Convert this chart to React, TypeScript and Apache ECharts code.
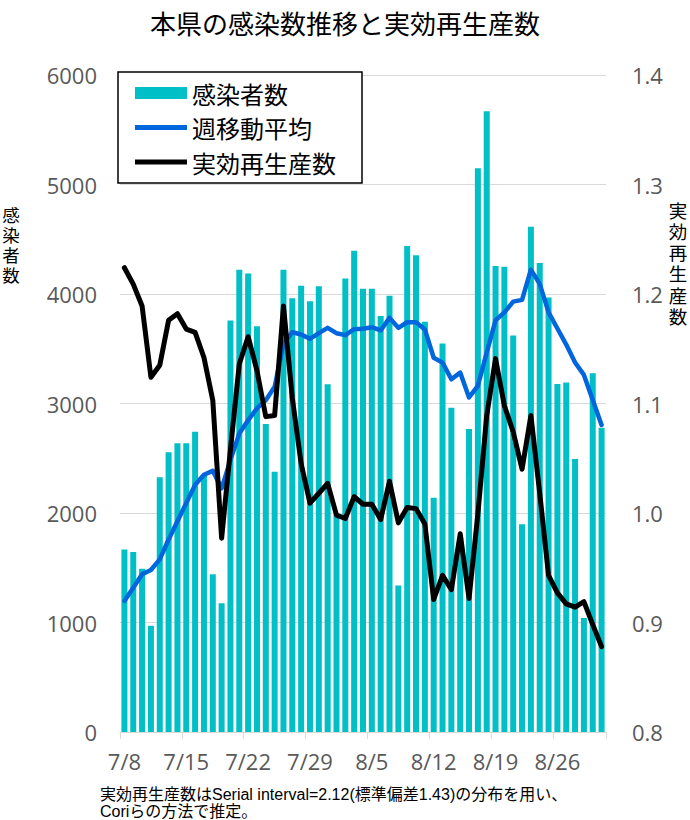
import React, { useEffect, useRef } from "react";
import * as echarts from "echarts";

const categories = [
  "7/8", "7/9", "7/10", "7/11", "7/12", "7/13", "7/14", "7/15", "7/16", "7/17",
  "7/18", "7/19", "7/20", "7/21", "7/22", "7/23", "7/24", "7/25", "7/26", "7/27",
  "7/28", "7/29", "7/30", "7/31", "8/1", "8/2", "8/3", "8/4", "8/5", "8/6",
  "8/7", "8/8", "8/9", "8/10", "8/11", "8/12", "8/13", "8/14", "8/15", "8/16",
  "8/17", "8/18", "8/19", "8/20", "8/21", "8/22", "8/23", "8/24", "8/25", "8/26",
  "8/27", "8/28", "8/29", "8/30", "8/31",
];

const cases = [
  1667, 1643, 1491, 970, 2327, 2555, 2636, 2636, 2742, 2340,
  1440, 1176, 3758, 4221, 4188, 3706, 2812, 2376, 4221, 3961,
  4076, 3933, 4070, 3176, 1990, 4142, 4394, 4048, 4048, 3800,
  3985, 1339, 4439, 4355, 3746, 2140, 3549, 2961, 1780, 2767,
  5148, 5670, 4256, 4250, 3620, 1897, 4615, 4282, 3969, 3179,
  3192, 2494, 1042, 3277, 2778,
];

const movingAvg = [
  1197, 1318, 1440, 1479, 1576, 1758, 1924, 2091, 2258, 2349,
  2385, 2225, 2485, 2727, 2848, 2955, 3030, 3152, 3545, 3651,
  3630, 3591, 3642, 3691, 3642, 3624, 3679, 3682, 3697, 3667,
  3782, 3691, 3742, 3742, 3676, 3418, 3373, 3221, 3282, 3055,
  3161, 3464, 3760, 3832, 3930, 3946, 4223, 4093, 3832, 3685,
  3538, 3375, 3261, 3032, 2804,
];

const rt = [
  1.224, 1.209, 1.189, 1.124, 1.135, 1.176, 1.182, 1.168, 1.165, 1.142,
  1.103, 0.977, 1.058, 1.136, 1.161, 1.130, 1.088, 1.089, 1.189, 1.105,
  1.045, 1.009, 1.018, 1.027, 0.998, 0.995, 1.015, 1.008, 1.008, 0.994,
  1.029, 0.991, 1.005, 1.004, 0.990, 0.921, 0.943, 0.930, 0.981, 0.922,
  0.999, 1.089, 1.141, 1.098, 1.074, 1.040, 1.089, 1.018, 0.943, 0.927,
  0.917, 0.914, 0.919, 0.898, 0.878,
];

const leftTicks = { min: 0, max: 6000, interval: 1000 };
const rightTicks = { min: 0.8, max: 1.4, interval: 0.1 };
const leftAxisName = ["感", "染", "者", "数"];
const rightAxisName = ["実", "効", "再", "生", "産", "数"];

const CJK = "'Noto Sans CJK JP', 'Noto Sans', sans-serif";
// compact line metrics for stacked single characters (glyphs fall back to Noto CJK)
const STACK = "'Liberation Sans', 'Noto Sans CJK JP', sans-serif";
const NUM = "'Open Sans', 'Noto Sans', sans-serif";
const NOTE = "'Liberation Sans', 'Noto Sans CJK JP', sans-serif";

// legend line swatch: a 5px-high bar centred in a 52x12 box
const LINE_ICON =
  "path://M0,0L52,0L52,0.01Z M0,3.5L52,3.5L52,8.5L0,8.5Z M0,12L52,12L52,11.99Z";

export default function App() {
  const ref = useRef<HTMLDivElement>(null);

  useEffect(() => {
    document.body.style.margin = "0";
    if (!ref.current) return;
    const chart = echarts.init(ref.current, undefined, { renderer: "svg" });
    const weekly = (i: number) => i % 7 === 0;

    const nameTexts: any[] = [];
    leftAxisName.forEach((ch, i) => {
      nameTexts.push({
        type: "text",
        x: 11,
        y: 216 + i * 20,
        style: {
          text: ch,
          fontFamily: STACK,
          fontSize: 17.5,
          fill: "#000",
          align: "center",
          verticalAlign: "middle",
        },
      });
    });
    rightAxisName.forEach((ch, i) => {
      nameTexts.push({
        type: "text",
        x: 678,
        y: 211 + i * 21.3,
        style: {
          text: ch,
          fontFamily: STACK,
          fontSize: 18.5,
          fill: "#000",
          align: "center",
          verticalAlign: "middle",
        },
      });
    });

    chart.setOption({
      animation: false,
      backgroundColor: "#ffffff",
      title: {
        text: "本県の感染数推移と実効再生産数",
        left: "center",
        top: 4,
        textStyle: { fontFamily: CJK, fontSize: 26, fontWeight: "normal", color: "#000" },
      },
      legend: {
        orient: "vertical",
        left: 118,
        top: 72,
        padding: [9, 26, 9, 17],
        itemWidth: 52,
        itemHeight: 12,
        itemGap: 10.5,
        symbolKeepAspect: false,
        backgroundColor: "#ffffff",
        borderColor: "#000000",
        borderWidth: 1.5,
        textStyle: { fontFamily: CJK, fontSize: 24, color: "#000", lineHeight: 24 },
        data: [
          { name: "感染者数", icon: "rect" },
          { name: "週移動平均", icon: LINE_ICON },
          { name: "実効再生産数", icon: LINE_ICON },
        ],
      },
      grid: { left: 120, right: 84, top: 75, bottom: 88 },
      xAxis: {
        type: "category",
        data: categories,
        boundaryGap: true,
        axisLine: { lineStyle: { color: "#d9d9d9", width: 1 } },
        axisTick: {
          show: true,
          interval: weekly,
          length: 7,
          lineStyle: { color: "#d9d9d9" },
        },
        axisLabel: {
          interval: weekly,
          color: "#595959",
          fontSize: 22,
          fontFamily: NUM,
          margin: 18,
        },
      },
      yAxis: [
        {
          type: "value",
          min: leftTicks.min,
          max: leftTicks.max,
          interval: leftTicks.interval,
          axisLine: { show: false },
          axisTick: { show: false },
          splitLine: { lineStyle: { color: "#d9d9d9", width: 1 } },
          axisLabel: {
            color: "#595959",
            fontSize: 22,
            fontFamily: NUM,
            margin: 23,
            formatter: (v: number) => String(v),
          },
        },
        {
          type: "value",
          min: rightTicks.min,
          max: rightTicks.max,
          interval: rightTicks.interval,
          axisLine: { show: false },
          axisTick: { show: false },
          splitLine: { show: false },
          axisLabel: {
            color: "#595959",
            fontSize: 22,
            fontFamily: NUM,
            margin: 26,
            formatter: (v: number) => v.toFixed(1),
          },
        },
      ],
      series: [
        {
          name: "感染者数",
          type: "bar",
          data: cases,
          barCategoryGap: "32%",
          itemStyle: { color: "#00BFC6" },
        },
        {
          name: "週移動平均",
          type: "line",
          data: movingAvg,
          symbol: "none",
          itemStyle: { color: "#0066DD" },
          lineStyle: { color: "#0066DD", width: 4.5, cap: "round", join: "round" },
        },
        {
          name: "実効再生産数",
          type: "line",
          yAxisIndex: 1,
          data: rt,
          symbol: "none",
          itemStyle: { color: "#000000" },
          lineStyle: { color: "#000000", width: 5, cap: "round", join: "round" },
        },
      ],
      graphic: [
        ...nameTexts,
        {
          type: "text",
          left: 100,
          top: 786,
          style: {
            text: "実効再生産数はSerial interval=2.12(標準偏差1.43)の分布を用い、",
            fontFamily: NOTE,
            fontSize: 16,
            fill: "#000",
          },
        },
        {
          type: "text",
          left: 100,
          top: 803,
          style: {
            text: "Coriらの方法で推定。",
            fontFamily: NOTE,
            fontSize: 16,
            fill: "#000",
          },
        },
      ],
    });
    return () => chart.dispose();
  }, []);

  return <div ref={ref} style={{ width: 690, height: 820 }} />;
}
